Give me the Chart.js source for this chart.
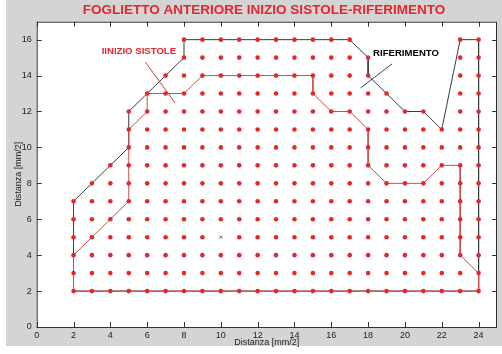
<!DOCTYPE html>
<html>
<head>
<meta charset="utf-8">
<script src="https://cdn.jsdelivr.net/npm/chart.js@4/dist/chart.umd.min.js"></script>
<style>
  html, body { margin: 0; padding: 0; background: #fff; }
  #wrap { width: 502px; height: 354px; position: relative; }
</style>
</head>
<body>
<div id="wrap"><canvas id="chart"></canvas></div>
<script>
// assi
const xTicks = [0, 2, 4, 6, 8, 10, 12, 14, 16, 18, 20, 22, 24];
const yTicks = [0, 2, 4, 6, 8, 10, 12, 14, 16];

// griglia di punti campionati: [y, x da, x a] (passo 1)
const dotSpans = [
    [16, 8, 17], [16, 23, 24],
    [15, 8, 18], [15, 23, 24],
    [14, 7, 18], [14, 23, 24],
    [13, 6, 19], [13, 23, 24],
    [12, 5, 21], [12, 23, 24],
    [11, 5, 24], [10, 5, 24],
    [9, 4, 24], [8, 3, 24],
    [7, 2, 24], [6, 2, 24], [5, 2, 24],
    [4, 2, 24], [3, 2, 24], [2, 2, 24]
];
const centro = [[10, 5]];

// contorno riferimento (nero)
const rifX = [2, 2, 5, 5, 8, 8, 17, 18, 18, 20, 21, 22, 23, 24, 24, 2];
const rifY = [2, 7, 10, 12, 15, 16, 16, 15, 14, 12, 12, 11, 16, 16, 2, 2];

// contorno inizio sistole (rosso)
const sisX = [2, 5, 5, 6, 6, 8, 9, 15, 15, 16, 17, 18, 18, 19, 21, 22, 23, 23, 24, 24, 2, 2];
const sisY = [4, 7, 11, 12, 13, 13, 14, 14, 13, 12, 12, 11, 9, 8, 8, 9, 9, 4, 3, 2, 2, 4];

// frecce delle etichette
const frecciaSisX = [5.9, 7.52];
const frecciaSisY = [14.75, 12.47];
const frecciaRifX = [19.3, 17.59];
const frecciaRifY = [14.65, 13.31];

const toPts = (xs, ys) => xs.map((x, i) => ({ x: x, y: ys[i] }));

const dots = [];
dotSpans.forEach(([y, a, b]) => {
    for (let x = a; x <= b; x++) {
        if (!centro.some(c => c[0] === x && c[1] === y)) dots.push({ x: x, y: y });
    }
});

const ROSSO = '#e5262b';
const FONT = '"Liberation Sans", Arial, sans-serif';

const figura = {
    id: 'figura',
    beforeDraw(chart) {
        const c = chart.ctx;
        const a = chart.chartArea;
        c.save();
        c.fillStyle = '#d4d4d4';
        c.fillRect(6, 0, chart.width - 6, 346);
        c.fillStyle = '#fff';
        c.fillRect(a.left, a.top, a.right - a.left, a.bottom - a.top);
        c.restore();
    },
    afterDraw(chart) {
        const c = chart.ctx;
        const a = chart.chartArea;
        const xs = chart.scales.x, ys = chart.scales.y;
        c.save();
        // cornice e tacche interne
        c.strokeStyle = '#333';
        c.lineWidth = 1;
        c.strokeRect(a.left + 0.5, a.top + 0.5, a.right - a.left - 1, a.bottom - a.top);
        c.beginPath();
        xTicks.forEach(v => {
            const px = Math.round(xs.getPixelForValue(v)) + 0.5;
            c.moveTo(px, a.bottom); c.lineTo(px, a.bottom - 5);
            c.moveTo(px, a.top); c.lineTo(px, a.top + 5);
        });
        yTicks.forEach(v => {
            const py = Math.round(ys.getPixelForValue(v)) + 0.5;
            c.moveTo(a.left, py); c.lineTo(a.left + 5, py);
            c.moveTo(a.right, py); c.lineTo(a.right - 5, py);
        });
        c.stroke();

        // titolo
        c.fillStyle = ROSSO;
        c.font = 'bold 13.5px ' + FONT;
        c.textAlign = 'center';
        c.textBaseline = 'middle';
        c.fillText('FOGLIETTO ANTERIORE INIZIO SISTOLE-RIFERIMENTO', 264, 10);

        // etichette
        c.font = 'bold 9.6px ' + FONT;
        c.fillText('IINIZIO SISTOLE', xs.getPixelForValue(5.55), ys.getPixelForValue(15.35));
        c.fillStyle = '#000';
        c.fillText('RIFERIMENTO', xs.getPixelForValue(20.06), ys.getPixelForValue(15.25));

        // titoli assi
        c.fillStyle = '#222';
        c.font = '9px ' + FONT;
        c.fillText('Distanza [mm/2]', (a.left + a.right) / 2, 343);
        c.translate(19, (a.top + a.bottom) / 2);
        c.rotate(-Math.PI / 2);
        c.fillText('Distanza [mm/2]', 0, 0);
        c.restore();
    }
};

new Chart(document.getElementById('chart'), {
    type: 'scatter',
    data: {
        datasets: [
            {
                label: 'punti',
                data: dots,
                pointRadius: 2.3,
                pointBackgroundColor: ROSSO,
                pointBorderWidth: 0,
                order: 0
            },
            {
                label: 'centro',
                data: toPts(centro.map(c => c[0]), centro.map(c => c[1])),
                pointStyle: 'crossRot',
                pointRadius: 2,
                pointBorderColor: '#666',
                pointBorderWidth: 1,
                order: 1
            },
            {
                label: 'riferimento',
                data: toPts(rifX, rifY),
                showLine: true,
                borderColor: '#3a3a3a',
                borderWidth: 1,
                pointRadius: 0,
                order: 3
            },
            {
                label: 'inizio sistole',
                data: toPts(sisX, sisY),
                showLine: true,
                borderColor: '#cf4a4a',
                borderWidth: 1,
                pointRadius: 0,
                order: 2
            },
            {
                label: 'freccia sistole',
                data: toPts(frecciaSisX, frecciaSisY),
                showLine: true,
                borderColor: '#b84040',
                borderWidth: 1,
                pointRadius: 0,
                order: 4
            },
            {
                label: 'freccia riferimento',
                data: toPts(frecciaRifX, frecciaRifY),
                showLine: true,
                borderColor: '#444',
                borderWidth: 1,
                pointRadius: 0,
                order: 4
            }
        ]
    },
    options: {
        responsive: true,
        maintainAspectRatio: false,
        animation: false,
        layout: { padding: { top: 21.7, right: 2.7, left: 0, bottom: 0 } },
        plugins: {
            legend: { display: false },
            tooltip: { enabled: false }
        },
        scales: {
            x: {
                type: 'linear',
                min: 0, max: 25,
                grid: { display: false, drawTicks: false },
                border: { display: false },
                afterBuildTicks: s => { s.ticks = xTicks.map(v => ({ value: v })); },
                afterFit: s => { s.height = 27; },
                ticks: {
                    padding: 3,
                    maxRotation: 0,
                    color: '#222',
                    font: { family: FONT, size: 9 }
                }
            },
            y: {
                type: 'linear',
                min: 0, max: 17,
                grid: { display: false, drawTicks: false },
                border: { display: false },
                afterBuildTicks: s => { s.ticks = yTicks.map(v => ({ value: v })); },
                afterFit: s => { s.width = 36.7; },
                ticks: {
                    padding: 5,
                    color: '#222',
                    font: { family: FONT, size: 9 }
                }
            }
        }
    },
    plugins: [figura]
});
</script>
</body>
</html>
